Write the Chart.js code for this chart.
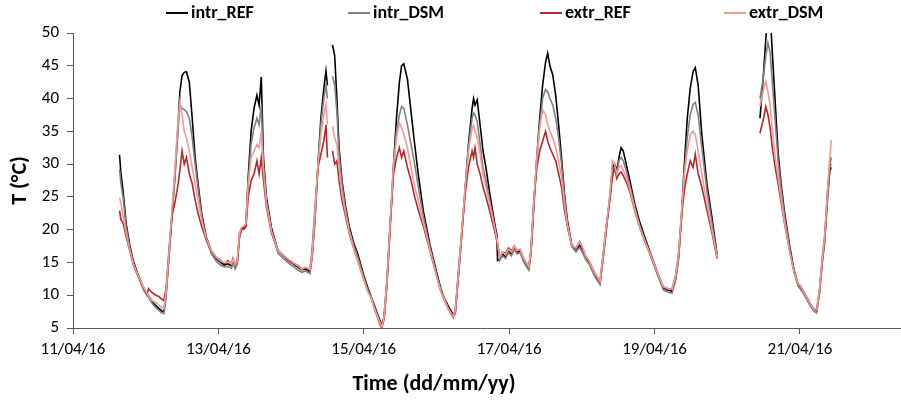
<!DOCTYPE html>
<html>
<head>
<meta charset="utf-8">
<script src="https://cdn.jsdelivr.net/npm/chart.js@4"></script>
<style>
  html, body { margin: 0; padding: 0; background: #fff; }
  #wrap { width: 901px; height: 403px; }
</style>
</head>
<body>
<div id="wrap"><canvas id="chart" width="901" height="403"></canvas></div>
<script>
// time = day of April 2016 (fractional, 12.5 = 12/04 12:00), null = no data
const times = [
  11.64, 11.66, 11.69, 11.73, 11.78, 11.83, 11.88, 11.93, 11.97, 12.02,
  12.04, 12.07, 12.10, 12.14, 12.18, 12.22, 12.25, 12.28, 12.32, 12.36,
  12.40, 12.44, 12.47, 12.50, 12.53, 12.56, 12.60, 12.64, 12.68, 12.72,
  12.77, 12.83, 12.90, 12.97, 13.03, 13.08, 13.13, 13.18, 13.20, 13.23,
  13.26, 13.29, 13.32, 13.36, 13.38, 13.41, 13.45, 13.49, 13.53, 13.56,
  13.59, 13.62, 13.66, 13.73, 13.82, 13.92, 14.00, 14.05, 14.10, 14.15,
  14.20, 14.26, 14.29, 14.33, 14.37, 14.41, 14.45, 14.48, 14.50, 14.53,
  14.57, 14.60, 14.63, 14.66, 14.70, 14.75, 14.80, 14.86, 14.92, 15.00,
  15.06, 15.10, 15.14, 15.18, 15.22, 15.25, 15.28, 15.32, 15.36, 15.41,
  15.45, 15.49, 15.52, 15.55, 15.60, 15.65, 15.70, 15.75, 15.82, 15.91,
  16.00, 16.06, 16.10, 16.16, 16.23, 16.26, 16.32, 16.39, 16.44, 16.49,
  16.51, 16.53, 16.56, 16.60, 16.64, 16.68, 16.74, 16.80, 16.83, 16.84,
  16.87, 16.91, 16.95, 16.99, 17.03, 17.07, 17.11, 17.15, 17.19, 17.23,
  17.27, 17.30, 17.34, 17.38, 17.42, 17.46, 17.50, 17.53, 17.56, 17.60,
  17.64, 17.68, 17.72, 17.76, 17.80, 17.86, 17.92, 17.97, 18.00, 18.05,
  18.10, 18.18, 18.25, 18.29, 18.34, 18.39, 18.42, 18.45, 18.48, 18.51,
  18.54, 18.57, 18.61, 18.66, 18.73, 18.80, 18.87, 18.94, 19.00, 19.06,
  19.12, 19.18, 19.24, 19.29, 19.33, 19.37, 19.41, 19.45, 19.49, 19.53,
  19.56, 19.60, 19.65, 19.72, 19.79, 19.86, 20.10, 20.45, 20.50, 20.53,
  20.56, 20.59, 20.62, 20.66, 20.70, 20.74, 20.79, 20.86, 20.92, 20.97,
  21.00, 21.05, 21.10, 21.15, 21.20, 21.23, 21.27, 21.31, 21.34, 21.38,
  21.41, 21.43
];

const intrREF = [
  31.4, 28.5, 25.8, 21.0, 17.7, 15.2, 13.6, 12.2, 11.1, 10.2,
  9.9, 9.4, 8.9, 8.4, 8.0, 7.6, 7.5, 10.0, 16.0, 22.0,
  28.0, 35.0, 41.0, 43.5, 44.0, 44.1, 42.5, 37.0, 31.0, 27.0,
  22.5, 19.0, 16.8, 15.6, 15.0, 14.6, 14.8, 14.5, 15.3, 14.3,
  15.0, 19.0, 20.2, 20.3, 21.0, 28.0, 35.0, 38.5, 40.5, 39.0,
  43.3, 31.0, 25.0, 20.3, 16.8, 15.7, 15.0, 14.6, 14.2, 13.9,
  14.0, 13.6, 16.0, 22.0, 30.0, 37.0, 41.5, 44.2, 42.0, null,
  48.2, 46.5, 40.0, 32.5, 27.5, 23.5, 20.5, 18.0, 16.2, 13.0,
  11.0, 9.8, 8.6, 7.4, 6.2, 5.5, 6.5, 12.0, 20.0, 30.0,
  37.0, 42.5, 45.0, 45.3, 43.0, 38.0, 33.0, 28.4, 22.8, 17.7,
  13.6, 11.0, 9.7, 8.4, 7.0, 7.5, 15.5, 25.5, 33.0, 38.5,
  40.0, 39.0, 39.8, 36.0, 32.0, 29.5, 25.0, 21.0, 19.2, 15.3,
  15.5, 16.3, 15.8, 16.8, 16.2, 17.2, 16.5, 16.8, 15.6, 14.8,
  14.1, 16.5, 24.0, 31.0, 37.0, 42.0, 45.5, 46.9, 45.0, 43.6,
  40.5, 36.0, 31.0, 25.5, 21.5, 17.7, 17.0, 17.6, 17.0, 15.8,
  15.0, 13.1, 11.9, 15.5, 20.5, 25.5, 29.5, 30.0, 29.0, 31.0,
  32.5, 32.0, 30.0, 27.5, 23.8, 21.0, 18.7, 16.5, 14.7, 12.8,
  11.1, 10.8, 10.6, 12.5, 15.7, 22.0, 30.0, 37.0, 41.5, 44.1,
  44.7, 42.0, 34.5, 27.0, 21.8, 16.2, null, 37.0, 44.0, 49.0,
  53.0, 53.0, 47.0, 39.3, 31.7, 27.0, 22.5, 17.4, 13.8, 11.8,
  11.3, 10.5, 9.5, 8.5, 7.8, 7.6, 10.6, 15.5, 18.2, 25.0,
  29.0, 29.5
];

const intrDSM = [
  29.2, 27.0, 24.8, 20.5, 17.3, 14.9, 13.3, 11.9, 10.8, 9.9,
  9.6, 9.1, 8.6, 8.1, 7.7, 7.3, 7.2, 9.8, 15.8, 21.8,
  27.5, 34.5, 39.0, 38.5, 38.3, 38.0, 37.0, 34.0, 30.0, 26.3,
  22.0, 18.6, 16.4, 15.2, 14.6, 14.3, 14.4, 14.1, 15.0, 14.0,
  14.8, 18.8, 20.0, 20.1, 20.8, 27.0, 33.0, 35.5, 37.0, 36.0,
  39.0, 30.0, 24.5, 19.8, 16.4, 15.3, 14.6, 14.2, 13.8, 13.5,
  13.7, 13.3, 15.8, 21.5, 29.5, 36.0, 40.0, 42.0, 40.0, null,
  43.4, 42.0, 38.0, 31.5, 27.0, 23.0, 20.0, 17.6, 15.8, 12.7,
  10.7, 9.6, 8.4, 7.2, 6.0, 5.3, 6.3, 11.8, 19.8, 29.5,
  35.0, 37.5, 38.8, 38.5, 36.0, 33.0, 30.0, 26.5, 22.0, 17.3,
  13.2, 10.7, 9.4, 8.1, 6.7, 7.2, 15.3, 25.3, 32.5, 37.0,
  37.8, 37.5, 36.5, 33.0, 29.5, 27.5, 24.0, 20.5, 18.6, 18.0,
  15.3, 16.0, 15.6, 16.5, 16.0, 17.0, 16.3, 16.5, 15.3, 14.5,
  13.8, 16.3, 23.5, 30.5, 36.0, 40.0, 41.4, 41.0, 40.0, 39.0,
  37.0, 34.0, 30.0, 25.0, 21.0, 17.4, 16.6, 17.3, 16.7, 15.5,
  14.7, 12.8, 11.6, 15.3, 20.3, 25.3, 29.0, 29.5, 28.5, 30.5,
  31.0, 30.5, 29.0, 26.8, 23.3, 20.5, 18.3, 16.1, 14.3, 12.5,
  10.8, 10.5, 10.3, 12.3, 15.5, 21.5, 29.0, 34.0, 37.5, 39.1,
  39.4, 37.5, 32.5, 26.0, 21.0, 15.8, null, 40.0, 43.5, 46.5,
  48.5, 47.0, 42.5, 36.5, 30.5, 26.3, 22.0, 17.0, 13.5, 11.5,
  11.0, 10.2, 9.2, 8.2, 7.5, 7.3, 10.4, 15.3, 18.0, 25.0,
  29.5, 30.0
];

const extrREF = [
  22.9, 21.5, 21.0, 19.0, 16.8, 14.6, 13.3, 12.1, 11.1, 10.1,
  11.0, 10.6, 10.3, 10.0, 9.8, 9.4, 9.2, 11.0, 16.8, 22.0,
  24.0, 26.5, 29.0, 32.0, 30.0, 31.0, 28.5, 27.0, 24.5, 22.5,
  20.5, 18.5, 16.8, 15.8, 15.3, 14.8, 15.3, 14.8, 15.6, 14.6,
  15.3, 19.5, 20.0, 20.2, 20.5, 25.0, 27.5, 28.5, 30.5, 28.5,
  31.0, 27.5, 23.5, 19.5, 16.8, 15.8, 15.0, 14.8, 14.5, 14.0,
  14.2, 13.9, 17.0, 23.5, 29.5, 31.5, 33.5, 36.0, 31.0, null,
  32.0, 30.0, 30.5, 27.5, 24.5, 22.0, 19.5, 17.2, 15.2, 12.4,
  10.5, 9.8, 8.2, 6.9, 5.6, 5.0, 7.0, 12.5, 20.5, 28.5,
  31.0, 32.5, 31.0, 32.0, 29.5, 27.5, 25.0, 23.0, 20.5, 16.8,
  13.0, 10.6, 9.7, 8.0, 6.6, 7.8, 16.0, 25.0, 29.5, 32.0,
  31.0, 32.5, 30.0, 28.5, 26.5, 25.0, 22.5, 19.8, 18.3, 17.8,
  15.8, 16.6, 16.4, 17.2, 16.8, 17.5, 16.8, 17.0, 15.8, 15.0,
  14.3, 17.0, 24.5, 29.5, 32.0, 33.5, 35.0, 33.5, 32.5, 31.5,
  30.5, 28.5, 26.5, 23.0, 20.5, 17.6, 17.2, 18.2, 17.5, 16.0,
  15.2, 13.3, 12.1, 16.0, 21.0, 25.0, 28.0, 29.5, 27.8, 28.5,
  28.8, 28.2, 27.3, 25.8, 22.8, 20.2, 18.1, 16.3, 14.6, 12.9,
  11.3, 11.0, 10.9, 13.0, 16.3, 22.0, 26.0, 28.5, 30.5, 29.5,
  31.5, 28.5, 26.5, 23.0, 19.5, 15.6, null, 34.7, 37.0, 38.8,
  37.5, 35.5, 32.5, 29.5, 27.0, 24.2, 20.8, 16.6, 13.5, 11.8,
  11.5, 10.6, 9.5, 8.5, 7.8, 7.8, 11.0, 16.0, 19.0, 26.0,
  30.0, 31.0
];

const extrDSM = [
  24.9, 24.0, 22.0, 19.5, 17.0, 14.8, 13.4, 12.2, 11.2, 10.3,
  9.8, 9.4, 9.1, 8.9, 8.5, 8.1, 8.0, 10.5, 16.5, 23.0,
  29.0, 36.0, 39.5, 37.5, 35.0, 34.0, 32.0, 29.5, 27.0, 24.5,
  21.5, 18.8, 16.9, 15.8, 15.2, 15.0, 15.1, 14.8, 15.5, 14.6,
  15.3, 19.5, 20.4, 20.6, 21.0, 27.0, 31.0, 32.0, 33.0, 32.5,
  35.0, 29.0, 24.0, 19.8, 16.8, 15.8, 15.2, 14.8, 14.4, 14.0,
  14.3, 13.9, 16.5, 23.0, 30.0, 34.5, 37.5, 39.1, 36.0, null,
  35.8, 34.0, 33.0, 29.5, 25.5, 22.5, 19.8, 17.2, 15.2, 12.4,
  10.4, 9.7, 8.2, 7.0, 5.8, 5.2, 6.8, 12.5, 20.5, 30.0,
  34.0, 36.3, 35.5, 34.5, 32.5, 29.5, 26.5, 24.5, 21.0, 17.0,
  13.0, 10.6, 9.6, 8.0, 6.7, 7.8, 16.0, 25.8, 32.0, 35.5,
  35.9, 35.0, 34.0, 31.5, 28.5, 26.5, 23.5, 20.3, 18.6, 18.0,
  15.8, 16.6, 16.2, 17.0, 16.6, 17.5, 16.8, 17.0, 15.8, 15.0,
  14.3, 17.0, 24.5, 31.0, 35.5, 38.3, 37.5, 36.0, 35.0, 34.0,
  32.5, 30.5, 28.0, 24.0, 20.8, 17.6, 17.2, 18.2, 17.5, 16.0,
  15.2, 13.3, 12.1, 16.0, 21.0, 25.8, 30.5, 30.0, 28.5, 29.5,
  29.8, 29.0, 28.0, 26.2, 23.0, 20.3, 18.2, 16.3, 14.6, 12.9,
  11.3, 11.0, 10.9, 13.0, 16.3, 22.5, 28.5, 32.0, 34.5, 35.0,
  34.5, 32.0, 28.5, 24.0, 20.0, 15.8, null, 38.8, 41.5, 42.6,
  41.0, 39.0, 35.0, 31.0, 28.0, 24.8, 21.0, 16.6, 13.5, 11.8,
  11.5, 10.6, 9.5, 8.5, 7.8, 7.8, 11.0, 16.0, 19.0, 26.0,
  30.9, 33.7
];

const tickDays = [11, 13, 15, 17, 19, 21];
const tickLabels = ['11/04/16', '13/04/16', '15/04/16', '17/04/16', '19/04/16', '21/04/16'];
const xTitle = 'Time (dd/mm/yy)';

const FONT = "Carlito, 'Liberation Sans', Arial, sans-serif";
const AXIS = '#595959';

function series(label, values, color, order) {
    return {
        label: label,
        data: times.map((t, i) => ({ x: t, y: values[i] })),
        borderColor: color,
        backgroundColor: color,
        borderWidth: 1.6,
        pointRadius: 0,
        tension: 0,
        spanGaps: false,
        order: order
    };
}

// legend across the top and the x title, placed like the original
const legendX = [166, 348, 540, 724];
const overlay = {
    id: 'overlay',
    afterDraw(chart) {
        const ctx = chart.ctx;
        ctx.save();
        ctx.font = 'bold 18px ' + FONT;
        ctx.textBaseline = 'middle';
        ctx.textAlign = 'left';
        chart.data.datasets.forEach((ds, i) => {
            const x = legendX[i];
            ctx.strokeStyle = ds.borderColor;
            ctx.lineWidth = 2;
            ctx.beginPath();
            ctx.moveTo(x, 13);
            ctx.lineTo(x + 22, 13);
            ctx.stroke();
            ctx.fillStyle = '#000';
            ctx.fillText(ds.label, x + 25, 13);
        });
        ctx.font = 'bold 22px ' + FONT;
        ctx.textAlign = 'center';
        ctx.fillText(xTitle, 434, 384);
        ctx.restore();
    }
};

new Chart(document.getElementById('chart'), {
    type: 'line',
    data: {
        datasets: [
            series('intr_REF', intrREF, '#000000', 4),
            series('intr_DSM', intrDSM, '#808080', 3),
            series('extr_REF', extrREF, '#b3282d', 2),
            series('extr_DSM', extrDSM, '#f29a98', 1)
        ]
    },
    options: {
        responsive: false,
        animation: false,
        layout: { padding: { top: 33, right: 0, bottom: 0, left: 0 } },
        plugins: {
            legend: { display: false },
            tooltip: { enabled: false }
        },
        scales: {
            x: {
                type: 'linear',
                min: 11,
                max: 22.39,
                afterBuildTicks: s => { s.ticks = tickDays.map(v => ({ value: v })); },
                afterFit: s => { s.height = 75; },
                ticks: {
                    autoSkip: false,
                    maxRotation: 0,
                    padding: 6,
                    color: '#000',
                    font: { family: FONT, size: 17 },
                    callback: v => tickLabels[tickDays.indexOf(v)]
                },
                grid: { drawOnChartArea: false, drawTicks: true, tickLength: 6, color: AXIS },
                border: { color: AXIS, width: 1 }
            },
            y: {
                min: 5,
                max: 50,
                afterFit: s => { s.width = 73; },
                ticks: {
                    stepSize: 5,
                    padding: 8,
                    color: '#000',
                    font: { family: FONT, size: 17 }
                },
                grid: { drawOnChartArea: false, drawTicks: true, tickLength: 6, color: AXIS },
                border: { color: AXIS, width: 1 },
                title: {
                    display: true,
                    text: 'T (°C)',
                    color: '#000',
                    font: { family: FONT, size: 22, weight: 'bold' },
                    padding: { top: 7, bottom: 0 }
                }
            }
        }
    },
    plugins: [overlay]
});
</script>
</body>
</html>
